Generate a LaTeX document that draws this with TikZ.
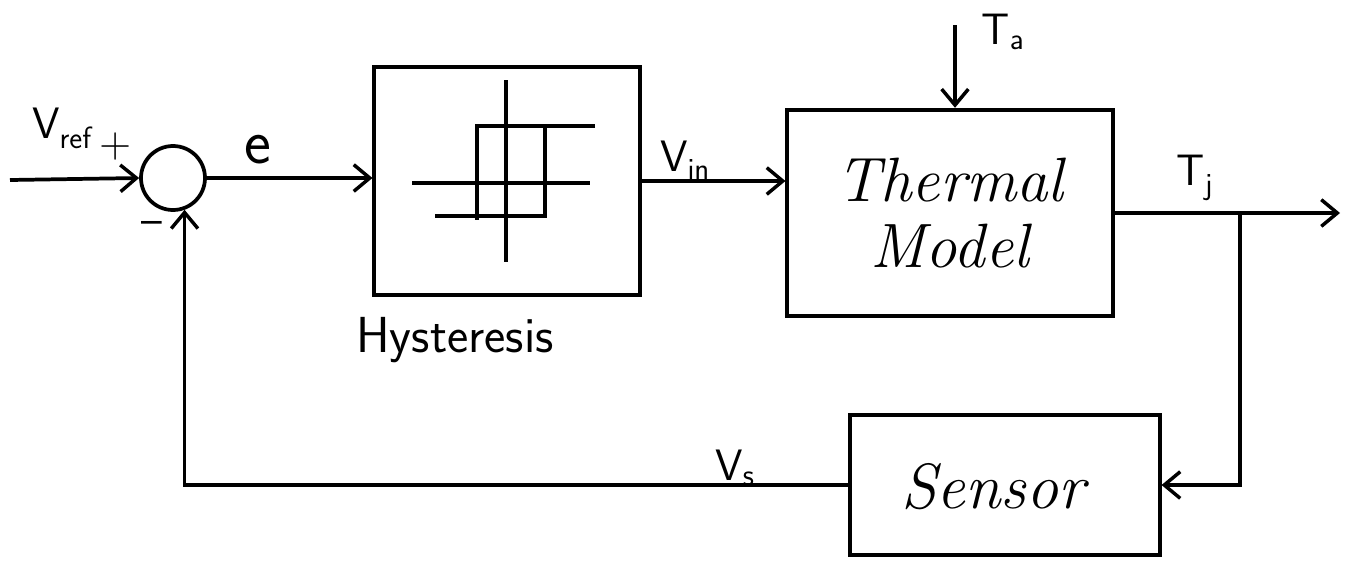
\documentclass[tikz,border=0pt]{standalone}
\usetikzlibrary{arrows.meta}
\begin{document}
\begin{tikzpicture}[x=0.75pt,y=-0.75pt,line width=2.8pt,
  >={Straight Barb[length=12pt,width=20pt,line width=2.6pt]},
  block/.style={draw,line width=2.8pt,inner sep=0pt},
  lbl/.style={font=\sffamily\fontsize{33}{36}\selectfont,inner sep=1pt},
  script/.style={font=\itshape\fontsize{47}{52}\selectfont,align=center,inner sep=0pt}]
\useasboundingbox (0,0) rectangle (1347,565);

% blocks
\node[draw,circle,minimum size=48pt,inner sep=0pt] (sum) at (173,178) {};
\node[block,minimum width=199pt,minimum height=171pt] (hyst) at (507,181) {};
\node[block,minimum width=244pt,minimum height=155pt,script] (thermal) at (950,213) {Thermal\\[-2pt]Model};
\node[block,minimum width=232pt,minimum height=105pt] (sensor) at (1005,485) {};
\node[script,font=\itshape\fontsize{48}{52}\selectfont] (sensortext) at (993,487) {Sensor};

% hysteresis characteristic
\draw (506,80) -- (506,262);
\draw (412,183) -- (590,183);
\draw (595,126) -- (477,126) -- (477,220);
\draw (435,216) -- (545,216) -- (545,126);

% free ends of the signal lines
\coordinate (in) at (10,180);
\coordinate (ta) at (955,25);
\coordinate (out) at (1340,213);
\coordinate (br) at (1240,213);

% connectors
\draw[->] (in) -- (sum.west);
\draw[->] (sum.east) -- (sum.east -| hyst.west);
\draw[->] (hyst.east) -- (hyst.east -| thermal.west);
\draw[->] (ta) -- (ta |- thermal.north);
\draw[->] (thermal.east |- out) -- (out);
\draw[->] (br) |- (sensor.east);
\draw[->] (sensor.west) -| (sum.-70);

% labels
\node[lbl] (vref) at (62,128) {V\textsubscript{ref}};
\node[lbl] (plus) at (116,147) {+};
\node[lbl] (minus) at (152,228) {\textendash};
\node[lbl,font=\sffamily\fontsize{48}{52}\selectfont] (e) at (258,150) {e};
\node[lbl] (vin) at (685,160) {V\textsubscript{in}};
\node[lbl] (tlab) at (1003,32) {T\textsubscript{a}};
\node[lbl] (tj) at (1195,178) {T\textsubscript{j}};
\node[lbl] (vs) at (735,468) {V\textsubscript{s}};
\node[lbl,font=\sffamily\fontsize{38}{42}\selectfont] (hlab) at (455,340) {Hysteresis};
\end{tikzpicture}
\end{document}
